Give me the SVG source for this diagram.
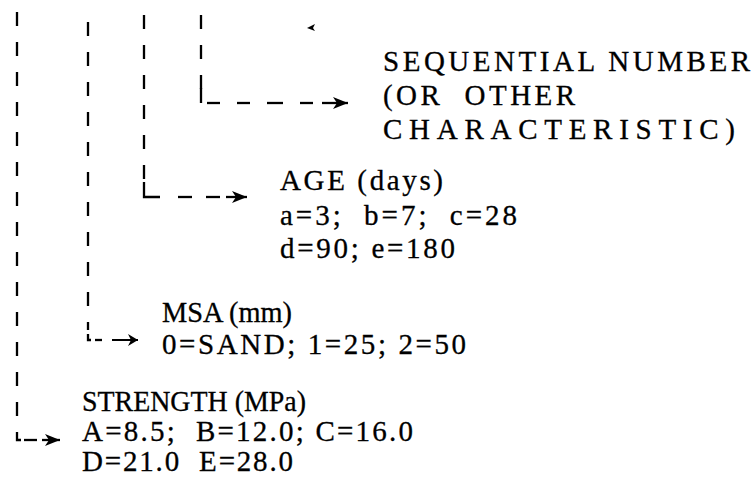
<svg xmlns="http://www.w3.org/2000/svg" width="756" height="486" viewBox="0 0 756 486">
  <style>
    .t { font-family: "Liberation Serif", "Times New Roman", serif; font-size: 29px; fill: #000; stroke: #000; stroke-width: 0.3; }
    .v { fill: none; stroke: #000; stroke-width: 2.3; stroke-dasharray: 14 16; }
    .s { fill: none; stroke: #000; stroke-width: 2.3; }
    .a { fill: none; stroke: #000; stroke-width: 2.3; marker-end: url(#head); }
    .a2 { fill: none; stroke: #000; stroke-width: 2; marker-end: url(#head2); }
  </style>
  <defs>
    <marker id="head" markerUnits="userSpaceOnUse" markerWidth="16" markerHeight="14" refX="15" refY="6" orient="auto">
      <path d="M0,0 L15,6 L0,12 L4,6 Z" fill="#000"/>
    </marker>
    <marker id="head2" markerUnits="userSpaceOnUse" markerWidth="14" markerHeight="14" refX="12" refY="6" orient="auto">
      <path d="M2,0 L12,6 L2,12 L5,6 Z" fill="#000"/>
    </marker>
  </defs>
  <rect width="756" height="486" fill="#fff"/>

  <g id="connectors">
    <!-- STRENGTH -->
    <path class="v" d="M17,12 V432"/>
    <path class="s" d="M17,432 V440 H21"/>
    <path class="s" d="M24,440 H37"/>
    <path class="a" d="M42,440 H60"/>
    <!-- MSA -->
    <path class="v" d="M88,22 V330"/>
    <path class="s" d="M88,334 V340 H91"/>
    <path class="s" d="M95,340 H102"/>
    <path class="a2" d="M112,340 H138"/>
    <!-- AGE -->
    <path class="v" d="M144,15 V188"/>
    <path class="s" d="M144,182 V197 H160"/>
    <path class="s" d="M178,197 H192"/>
    <path class="s" d="M206,197 H220"/>
    <path class="a" d="M226,197 H247"/>
    <!-- SEQUENTIAL -->
    <path class="v" d="M201,15 V94"/>
    <path class="s" d="M201,88 V103"/>
    <path class="s" d="M207,103 H220"/>
    <path class="s" d="M237,103 H250"/>
    <path class="s" d="M267,103 H283"/>
    <path class="s" d="M300,103 H313"/>
    <path class="a" d="M322,103 H348"/>
    <!-- stray small arrowhead -->
    <path d="M307,28 L315,24 L313,28 L315,31 Z" fill="#000"/>
  </g>

  <g id="sequential">
    <text class="t" x="383" y="71" textLength="367" lengthAdjust="spacing">SEQUENTIAL NUMBER</text>
    <text class="t" x="383" y="105" textLength="192" lengthAdjust="spacing" xml:space="preserve">(OR  OTHER</text>
    <text class="t" x="383" y="139" textLength="352" lengthAdjust="spacing">CHARACTERISTIC)</text>
  </g>

  <g id="age">
    <text class="t" x="280" y="190" textLength="163" lengthAdjust="spacing">AGE (days)</text>
    <text class="t" x="280" y="225" textLength="237" lengthAdjust="spacing" xml:space="preserve">a=3;  b=7;  c=28</text>
    <text class="t" x="280" y="258" textLength="175" lengthAdjust="spacing">d=90; e=180</text>
  </g>

  <g id="msa">
    <text class="t" x="162" y="322" textLength="130" lengthAdjust="spacingAndGlyphs">MSA (mm)</text>
    <text class="t" x="162" y="354" textLength="304" lengthAdjust="spacing">0=SAND; 1=25; 2=50</text>
  </g>

  <g id="strength">
    <text class="t" x="82" y="411" textLength="224" lengthAdjust="spacingAndGlyphs">STRENGTH (MPa)</text>
    <text class="t" x="82" y="441" textLength="331" lengthAdjust="spacing" xml:space="preserve">A=8.5;  B=12.0; C=16.0</text>
    <text class="t" x="82" y="471" textLength="211" lengthAdjust="spacing" xml:space="preserve">D=21.0  E=28.0</text>
  </g>
</svg>
